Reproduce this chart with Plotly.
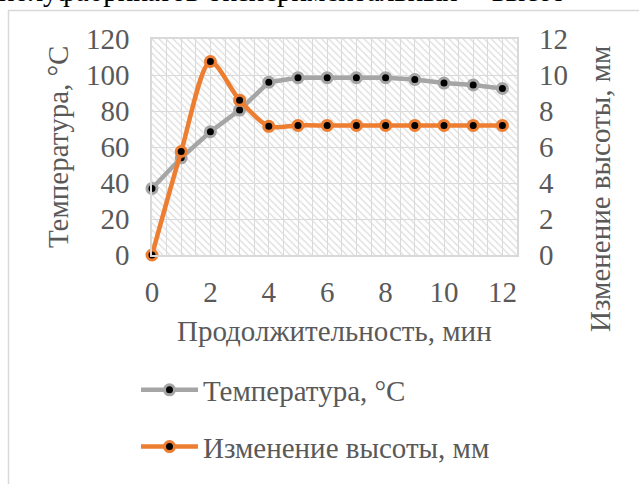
import plotly.graph_objects as go

# ---- data ----
time_min = [0, 1, 2, 3, 4, 5, 6, 7, 8, 9, 10, 11, 12]
temperature = [37, 54, 68.5, 80.5, 96, 98.5, 98.5, 98.5, 98.5, 97.5, 95.5, 94.5, 92.5]
height_change = [0, 5.75, 10.75, 8.6, 7.15, 7.2, 7.2, 7.2, 7.2, 7.2, 7.2, 7.2, 7.2]
x_ticks = [0, 2, 4, 6, 8, 10, 12]
y_left_ticks = [0, 20, 40, 60, 80, 100, 120]
y_right_ticks = [0, 2, 4, 6, 8, 10, 12]
top_words = ["полуфабрикатов", "экспериментальных", "высот"]

X_RANGE = [0, 12.5]
YL_RANGE = [0, 120]
YR_RANGE = [0, 12]

FONT = "Times New Roman, Liberation Serif, serif"
TXT = "#595959"
GRID = "#D9D9D9"
GREY = "#A5A5A5"
ORANGE = "#ED7D31"
FS = 29

W, H = 639, 484
L, R, T, B = 152, 517, 39, 258


def px_x(p):
    return (p - L) / (R - L)


def px_y(p):
    return 1 - (p - T) / (B - T)


fig = go.Figure()

# hatched plot-area background
fig.add_trace(go.Bar(
    x=[(X_RANGE[0] + X_RANGE[1]) / 2], y=[YL_RANGE[1] - YL_RANGE[0]], base=[YL_RANGE[0]],
    width=[X_RANGE[1] - X_RANGE[0]],
    marker=dict(color="rgba(0,0,0,0)", line=dict(width=0),
                pattern=dict(shape="\\", size=5, solidity=0.25, fgcolor="#DCDCDC",
                             bgcolor="rgba(0,0,0,0)", fillmode="replace")),
    showlegend=False, hoverinfo="skip", yaxis="y",
))

fig.add_trace(go.Scatter(
    x=time_min, y=temperature, name="Температура, °С", mode="lines+markers",
    line=dict(color=GREY, width=4.5),
    marker=dict(color="black", size=10, line=dict(color=GREY, width=3)),
    cliponaxis=False, legendgroup="a", yaxis="y",
))
fig.add_trace(go.Scatter(
    x=time_min, y=height_change, name="Изменение высоты, мм", mode="lines+markers",
    line=dict(color=ORANGE, width=4.5, shape="spline", smoothing=0.8),
    marker=dict(color="black", size=10, line=dict(color=ORANGE, width=3)),
    cliponaxis=False, legendgroup="b", yaxis="y2",
))

top_x = [-3, 208, 490]
annotations = [
    dict(text="Температура, °С", xref="paper", yref="paper", x=px_x(58), y=px_y(148.5),
         xanchor="center", yanchor="middle",
         textangle=-90, showarrow=False, font=dict(family=FONT, size=FS, color=TXT)),
    dict(text="Изменение высоты, мм", xref="paper", yref="paper", x=px_x(600), y=px_y(191),
         xanchor="center", yanchor="middle",
         textangle=-90, showarrow=False, font=dict(family=FONT, size=FS, color=TXT)),
    dict(text="Продолжительность, мин", xref="paper", yref="paper", x=0.5, y=px_y(335),
         xanchor="center", yanchor="middle",
         showarrow=False, font=dict(family=FONT, size=FS, color=TXT)),
]
for word, xp in zip(top_words, top_x):
    annotations.append(dict(text=word, xref="paper", yref="paper",
                            x=px_x(xp), y=px_y(9), xanchor="left", yanchor="bottom",
                            showarrow=False, font=dict(family=FONT, size=FS, color="black")))

fig.update_layout(
    width=W, height=H,
    margin=dict(l=L, r=W - R, t=T, b=H - B),
    paper_bgcolor="white", plot_bgcolor="white",
    font=dict(family=FONT, size=FS, color=TXT),
    bargap=0,
    xaxis=dict(range=X_RANGE, tickvals=x_ticks, showgrid=True, gridcolor=GRID, gridwidth=1.3,
               minor=dict(dtick=0.5, showgrid=True, gridcolor=GRID, gridwidth=1.3),
               zeroline=False, showline=True, linecolor=GRID, linewidth=1.5, mirror=True,
               ticks="", ticklabelstandoff=10, tickfont=dict(size=FS, color=TXT)),
    yaxis=dict(range=YL_RANGE, tickvals=y_left_ticks, showgrid=True, gridcolor=GRID, gridwidth=1.3,
               zeroline=False, showline=True, linecolor=GRID, linewidth=1.5, mirror=True,
               ticks="", ticklabelstandoff=15, tickfont=dict(size=FS, color=TXT)),
    yaxis2=dict(range=YR_RANGE, tickvals=y_right_ticks, overlaying="y", side="right",
                showgrid=False, zeroline=False, showline=False, ticks="", ticklabelstandoff=21,
                tickfont=dict(size=FS, color=TXT)),
    showlegend=True,
    legend=dict(x=px_x(136), y=px_y(369), xanchor="left", yanchor="top",
                orientation="v", traceorder="grouped", tracegroupgap=16, itemwidth=57,
                font=dict(size=FS, color=TXT), bgcolor="rgba(0,0,0,0)"),
    shapes=[dict(type="rect", xref="paper", yref="paper",
                 x0=px_x(8.5), x1=px_x(700), y0=px_y(10), y1=px_y(600),
                 line=dict(color=GRID, width=1.5), layer="below")],
    annotations=annotations,
)

fig.write_html("out.html")
